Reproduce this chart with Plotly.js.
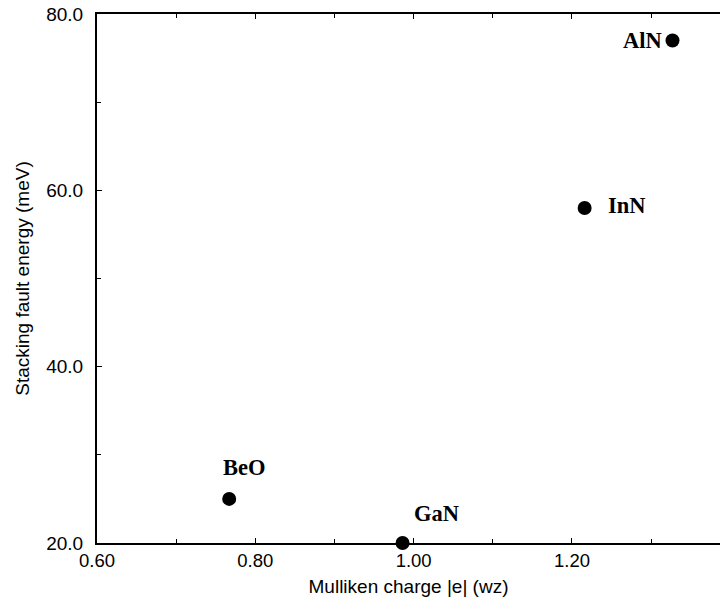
<!DOCTYPE html>
<html><head><meta charset="utf-8">
<script src="https://cdn.plot.ly/plotly-3.0.1.min.js"></script>
<style>body{margin:0;background:#fff}#c{width:720px;height:601px}</style>
</head><body><div id="c"></div>
<script>
const compounds = ["BeO", "GaN", "InN", "AlN"];
const mulliken = [0.767, 0.986, 1.216, 1.327];
const sfEnergy = [25.0, 20.0, 58.0, 77.0];
const labelDx = [15, 34, 42, -30];
const labelDy = [31, 30, 2, 0];

const annotations = compounds.map((c, i) => ({
  x: mulliken[i], y: sfEnergy[i], xref: 'x', yref: 'y',
  text: '<b>' + c + '</b>', showarrow: false,
  xshift: labelDx[i], yshift: labelDy[i],
  font: {family: 'Liberation Serif, Times New Roman, serif', size: 22.5, color: '#000'}
}));

const trace = {
  x: mulliken, y: sfEnergy, mode: 'markers', type: 'scatter',
  marker: {color: '#000', size: 14}, cliponaxis: false, hoverinfo: 'none'
};

const layout = {
  width: 720, height: 601,
  margin: {l: 97, r: 0, t: 14, b: 58},
  paper_bgcolor: '#fff', plot_bgcolor: '#fff',
  showlegend: false,
  font: {family: 'Liberation Sans, Arial, sans-serif', color: '#000'},
  xaxis: {
    range: [0.6, 1.387], tickvals: [0.6, 0.8, 1.0, 1.2], ticktext: ['0.60','0.80','1.00','1.20'],
    ticks: 'inside', ticklen: 5, tickwidth: 1, tickcolor: '#000',
    minor: {tickvals: [0.7, 0.9, 1.1, 1.3], ticks: 'inside', ticklen: 4, tickcolor: '#000'},
    showline: true, linewidth: 2, linecolor: '#000', mirror: 'ticks',
    showgrid: false, zeroline: false, automargin: false,
    tickfont: {size: 18.5}, ticklabelstandoff: 0,
    title: {text: 'Mulliken charge |e| (wz)', font: {size: 19}, standoff: 9}
  },
  yaxis: {
    range: [20, 80], tickvals: [20, 40, 60, 80], ticktext: ['20.0','40.0','60.0','80.0'],
    ticks: 'inside', ticklen: 5, tickwidth: 1, tickcolor: '#000',
    minor: {tickvals: [30, 50, 70], ticks: 'inside', ticklen: 4, tickcolor: '#000'},
    showline: true, linewidth: 2, linecolor: '#000', mirror: false,
    showgrid: false, zeroline: false, automargin: false,
    tickfont: {size: 19}, ticklabelstandoff: 8,
    title: {text: 'Stacking fault energy (meV)', font: {size: 19}, standoff: 12}
  },
  annotations: annotations
};
Plotly.newPlot('c', [trace], layout, {staticPlot: true});
</script></body></html>
